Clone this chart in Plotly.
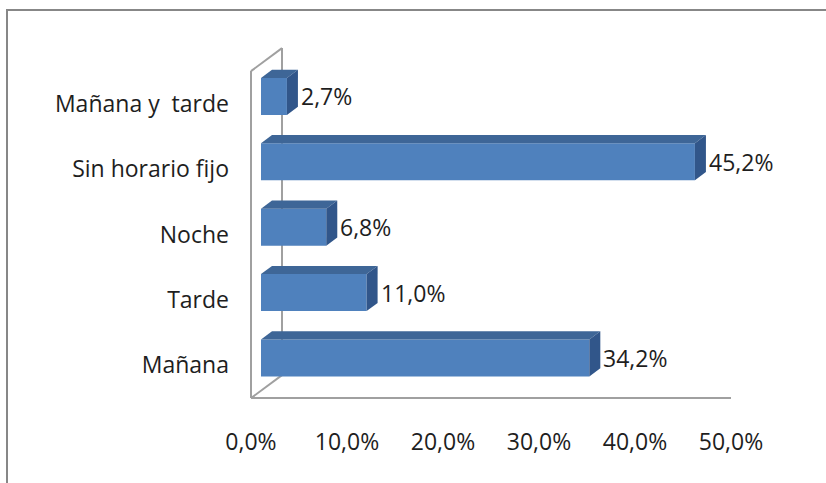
import plotly.graph_objects as go

# ---- data ----
categories = ["Mañana", "Tarde", "Noche", "Sin horario fijo", "Mañana y\u00a0 tarde"]
values = [34.2, 11.0, 6.8, 45.2, 2.7]
tick_values = [0, 10, 20, 30, 40, 50]
tick_labels = ["0,0%", "10,0%", "20,0%", "30,0%", "40,0%", "50,0%"]

# ---- geometry (pixel scale of the axes and 3D depth) ----
W, H = 826, 483
PX = 9.6          # px per percent
PY = 65.4         # px per category
X0_PX = 251       # pixel of 0% on front plane
Y0_PX = 365.4     # pixel of first category on front plane
DEPTH = (31 / PX, 23 / PY)          # full wall depth in data units
BAR_FRONT = 10 / 31                 # depth fraction of bar front face
BAR_DEPTH = 11 / 31                 # depth fraction of bar thickness
BAR_H = 37 / PY

front = "#4F81BD"
top_c = "#3E6697"
side_c = "#31568A"
wall_c = "#A0A0A0"
txt_c = "#1E1E1E"
font_fam = "Open Sans"

xr = [-X0_PX / PX, (W - X0_PX) / PX]
yr = [(Y0_PX - H) / PY, Y0_PX / PY]

fx = BAR_FRONT * DEPTH[0]
fy = BAR_FRONT * DEPTH[1]
bdx = BAR_DEPTH * DEPTH[0]
bdy = BAR_DEPTH * DEPTH[1]

idx = list(range(len(categories)))
ycent = [i + fy for i in idx]

fig = go.Figure()
fig.add_trace(go.Bar(
    orientation="h", y=ycent, x=values, base=fx, width=BAR_H,
    marker=dict(color=front, line=dict(width=0)), hoverinfo="skip",
))

shapes = []
# wall outline (left wall) and floor front edge
n = len(categories)
ylo, yhi = -0.5, n - 0.5
dX, dY = DEPTH
wall_lines = [
    (0, ylo, 0, yhi),
    (dX, ylo + dY, dX, yhi + dY),
    (0, yhi, dX, yhi + dY),
    (0, ylo, dX, ylo + dY),
    (0, ylo, tick_values[-1], ylo),
]
for x0, y0, x1, y1 in wall_lines:
    shapes.append(dict(type="line", xref="x", yref="y", x0=x0, y0=y0, x1=x1, y1=y1,
                       line=dict(color=wall_c, width=2), layer="below"))

annotations = []
for yc, v in zip(ycent, values):
    x0 = fx
    x1 = fx + v
    yt = yc + BAR_H / 2
    yb = yc - BAR_H / 2
    top_path = f"M {x0},{yt} L {x1},{yt} L {x1 + bdx},{yt + bdy} L {x0 + bdx},{yt + bdy} Z"
    side_path = f"M {x1},{yt} L {x1 + bdx},{yt + bdy} L {x1 + bdx},{yb + bdy} L {x1},{yb} Z"
    shapes.append(dict(type="path", xref="x", yref="y", path=top_path,
                       fillcolor=top_c, line=dict(width=0), layer="above"))
    shapes.append(dict(type="path", xref="x", yref="y", path=side_path,
                       fillcolor=side_c, line=dict(width=0), layer="above"))
    annotations.append(dict(
        x=x1 + bdx, y=yc, xref="x", yref="y", xanchor="left", yanchor="middle",
        text=f"{v:.1f}".replace(".", ",") + "%", showarrow=False,
        font=dict(family=font_fam, size=23, color=txt_c), xshift=1,
    ))

# outer chart border
shapes.append(dict(type="rect", xref="paper", yref="paper",
                   x0=7 / W, x1=1.02, y0=-0.02, y1=1 - 10 / H,
                   line=dict(color="#878787", width=2), layer="below"))

fig.update_layout(
    width=W, height=H, autosize=False,
    margin=dict(l=0, r=0, t=0, b=0, pad=0),
    paper_bgcolor="white", plot_bgcolor="white",
    showlegend=False,
    shapes=shapes, annotations=annotations,
    font=dict(family=font_fam, size=23, color=txt_c),
    xaxis=dict(range=xr, tickvals=tick_values, ticktext=tick_labels,
               showgrid=False, zeroline=False, showline=False, ticks="",
               anchor="free", position=(H - 398) / H, ticklabelstandoff=28,
               automargin=False, fixedrange=True),
    yaxis=dict(range=yr, tickvals=idx, ticktext=categories,
               showgrid=False, zeroline=False, showline=False, ticks="",
               anchor="free", position=229 / W, automargin=False, fixedrange=True),
)

fig.write_html("out.html", config={"displayModeBar": False},
               post_script="document.body.style.margin='0';document.body.style.overflow='hidden';")
